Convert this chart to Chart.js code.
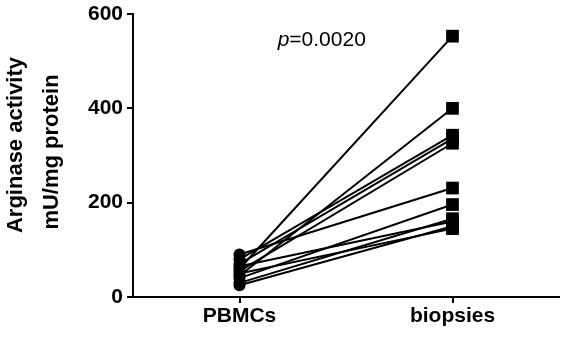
<!DOCTYPE html>
<html>
<head>
<meta charset="utf-8">
<script src="https://cdn.jsdelivr.net/npm/chart.js@4"></script>
<style>
  html, body { margin: 0; padding: 0; background: #fff; }
  #wrap { width: 568px; height: 337px; position: relative; }
</style>
</head>
<body>
<div id="wrap"><canvas id="argChart"></canvas></div>
<script>
const groups = ['PBMCs', 'biopsies'];
const pbmcValues = [60, 45, 80, 70, 55, 90, 40, 30, 65, 25, 50];
const biopsyValues = [553, 400, 343, 336, 326, 231, 196, 166, 160, 150, 145];
const yTicks = [0, 200, 400, 600];
const yTitleLines = ['Arginase activity', 'mU/mg protein'];
const pLabel = '0.0020';

const FONT = "'Liberation Sans', Arial, sans-serif";

const datasets = pbmcValues.map((p, i) => ({
  data: [p, biopsyValues[i]],
  borderColor: '#000',
  backgroundColor: '#000',
  borderWidth: 2,
  pointStyle: ['circle', 'rect'],
  pointRadius: [6, 9],
  pointBorderWidth: 0,
  tension: 0
}));

// p-value annotation + two-line y title (drawn by hand to sit where the original has it)
const annotationsPlugin = {
  id: 'annotations',
  afterDraw(chart) {
    const { ctx, chartArea, scales } = chart;
    ctx.save();
    ctx.fillStyle = '#000';
    ctx.textBaseline = 'middle';

    const x = chartArea.left + 0.443 * (chartArea.right - chartArea.left);
    const y = scales.y.getPixelForValue(545);
    ctx.font = `italic 21px ${FONT}`;
    const pw = ctx.measureText('p').width;
    ctx.font = `21px ${FONT}`;
    const rest = '=' + pLabel;
    const rw = ctx.measureText(rest).width;
    const start = x - (pw + rw) / 2;
    ctx.font = `italic 21px ${FONT}`;
    ctx.textAlign = 'left';
    ctx.fillText('p', start, y);
    ctx.font = `21px ${FONT}`;
    ctx.fillText(rest, start + pw, y);

    ctx.font = `bold 22px ${FONT}`;
    ctx.textAlign = 'center';
    const titlePos = [[16, 145], [52, 152]];
    yTitleLines.forEach((line, i) => {
      ctx.save();
      ctx.translate(titlePos[i][0], titlePos[i][1]);
      ctx.rotate(-Math.PI / 2);
      ctx.fillText(line, 0, 0);
      ctx.restore();
    });
    ctx.restore();
  }
};

new Chart(document.getElementById('argChart'), {
  type: 'line',
  data: { labels: groups, datasets },
  plugins: [annotationsPlugin],
  options: {
    responsive: true,
    maintainAspectRatio: false,
    animation: false,
    layout: { padding: { top: 14, right: 8, left: 0, bottom: 0 } },
    plugins: {
      legend: { display: false },
      tooltip: { enabled: false }
    },
    scales: {
      x: {
        type: 'category',
        offset: true,
        afterFit: (s) => { s.height = 40; },
        grid: { display: true, drawOnChartArea: false, drawTicks: true, tickLength: 6, color: '#000', lineWidth: 2, offset: false },
        border: { display: true, color: '#000', width: 2 },
        ticks: { color: '#000', font: { family: FONT, size: 21, weight: 'bold' }, padding: 1 }
      },
      y: {
        min: 0,
        max: 600,
        afterFit: (s) => { s.width = 133; s.paddingTop = 0; s.paddingBottom = 0; },
        afterBuildTicks: (s) => { s.ticks = yTicks.map(v => ({ value: v })); },
        grid: { display: true, drawOnChartArea: false, drawTicks: true, tickLength: 6, color: '#000', lineWidth: 2 },
        border: { display: true, color: '#000', width: 2 },
        ticks: { color: '#000', font: { family: FONT, size: 21, weight: 'bold' }, padding: 4 }
      }
    }
  }
});
</script>
</body>
</html>
